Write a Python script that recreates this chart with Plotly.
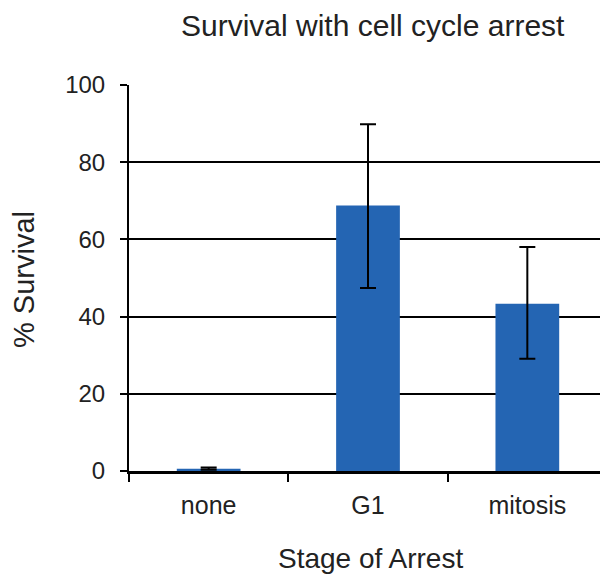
import plotly.graph_objects as go

categories = ["none", "G1", "mitosis"]
survival = [0.6, 68.8, 43.3]
err_plus = [0.3, 21.0, 14.7]
err_minus = [0.3, 21.4, 14.2]
y_ticks = [0, 20, 40, 60, 80, 100]

FONT = "Liberation Sans, Arial, sans-serif"
OFF = 8  # page body margin offset
W, H = 608 - OFF, 574 - OFF
L, R, T, B = 129 - OFF, 1, 85 - OFF, 103
pw = W - L - R
ph = H - T - B

def px_x(x):
    return (x - OFF - L) / pw

def px_y(y):
    return (H - B - (y - OFF)) / ph

fig = go.Figure()
fig.add_trace(go.Bar(
    x=categories, y=survival, width=0.4,
    marker=dict(color="#2465b3", line=dict(width=0)),
    error_y=dict(type="data", symmetric=False, array=err_plus, arrayminus=err_minus,
                 color="black", thickness=2, width=8),
))

fig.update_layout(
    width=W, height=H,
    margin=dict(l=L, r=R, t=T, b=B, autoexpand=False),
    paper_bgcolor="white", plot_bgcolor="white",
    showlegend=False,
    font=dict(family=FONT, color="#222222"),
    xaxis=dict(
        type="category", showline=True, linecolor="black", linewidth=2.5,
        ticks="outside", tickson="boundaries", ticklen=8, tickwidth=2, tickcolor="black",
        tickfont=dict(size=25, family=FONT, color="#222222"),
        showgrid=False, zeroline=False, automargin=False, ticklabelstandoff=10,
    ),
    yaxis=dict(
        range=[0, 100], tickvals=y_ticks, showline=True, linecolor="black", linewidth=2,
        ticks="outside", ticklen=7, tickwidth=2, tickcolor="black",
        tickfont=dict(size=24, family=FONT, color="#222222"),
        showgrid=True, gridcolor="black", gridwidth=2, zeroline=False,
        ticklabelstandoff=10, automargin=False,
    ),
    shapes=[dict(type="line", xref="paper", yref="paper", x0=1, x1=1, y0=0, y1=1,
                 line=dict(color="#333333", width=1))],
    annotations=[
        dict(text="Survival with cell cycle arrest", xref="paper", yref="paper",
             x=px_x(372.5), y=px_y(26), xanchor="center", yanchor="middle",
             showarrow=False, font=dict(size=30, family=FONT, color="#222222")),
        dict(text="Stage of Arrest", xref="paper", yref="paper",
             x=px_x(370), y=px_y(558), xanchor="center", yanchor="middle",
             showarrow=False, font=dict(size=28, family=FONT, color="#222222")),
        dict(text="% Survival", xref="paper", yref="paper", textangle=-90,
             x=px_x(24), y=px_y(280), xanchor="center", yanchor="middle",
             showarrow=False, font=dict(size=29, family=FONT, color="#222222")),
    ],
)

fig.write_html("out.html")
